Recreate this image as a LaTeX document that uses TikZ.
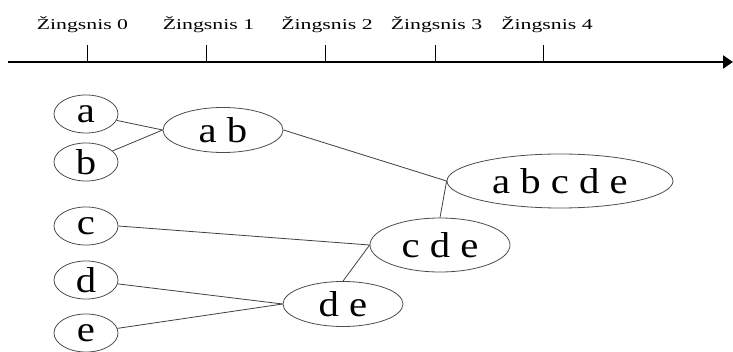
\documentclass[tikz,border=0pt]{standalone}
\usepackage{fontspec}
\setmainfont{Liberation Serif}
\usetikzlibrary{shapes.geometric,arrows.meta}
\newcommand{\nodetxt}[1]{\scalebox{1.13}[1]{#1}}
\newcommand{\lbltxt}[1]{\scalebox{1.45}[1]{#1}}
\tikzset{
  leaf/.style={ellipse, draw=black!70, line width=0.8pt, inner sep=0pt,
    minimum width=64pt, minimum height=38pt, font=\fontsize{36}{40}\selectfont},
  cluster/.style={ellipse, draw=black!70, line width=0.8pt, inner sep=0pt,
    font=\fontsize{36}{40}\selectfont},
  link/.style={draw=black!75, line width=0.8pt},
  tick/.style={draw=black, line width=0.8pt},
  steplabel/.style={anchor=base, inner sep=0pt, font=\fontsize{15}{18}\selectfont}
}
\begin{document}
\begin{tikzpicture}[x=1pt,y=-1pt]
\useasboundingbox (0,0) rectangle (733,352);
% time axis
\coordinate (axs) at (8,62);
\coordinate (axe) at (733,62);
\draw[line width=2pt, -{Triangle[length=10pt,width=13pt]}] (axs) -- (axe);
\foreach \x/\lx/\n [count=\i] in {87/82.5/0, 206/208.5/1, 325/327/2, 435/436.5/3, 543/547/4}{
  \coordinate (t\i) at (\x,45);
  \coordinate (tb\i) at (\x,62);
  \draw[tick] (t\i) -- (tb\i);
  \node[steplabel] (l\i) at (\lx,30) {\lbltxt{Žingsnis \n}};
}
% leaves
\node[leaf] (a) at (86,114) {\nodetxt{a}};
\node[leaf] (b) at (86,162) {\nodetxt{b}};
\node[leaf] (c) at (86,226) {\nodetxt{c}};
\node[leaf] (d) at (86,280) {\nodetxt{d}};
\node[leaf] (e) at (86,333) {\nodetxt{e}};
% clusters
\node[cluster, minimum width=120pt, minimum height=45pt] (ab) at (223,130) {\nodetxt{a b}};
\node[cluster, minimum width=120pt, minimum height=45pt] (de) at (343,304) {\nodetxt{d e}};
\node[cluster, minimum width=140pt, minimum height=54pt] (cde) at (440,245) {\nodetxt{c d e}};
\node[cluster, minimum width=226pt, minimum height=54pt] (abcde) at (560,181) {\nodetxt{a b c d e}};
% connectors
\draw[link] (a) -- (ab.west);
\draw[link] (b) -- (ab.west);
\draw[link] (ab.east) -- (abcde.west);
\draw[link] (c.east) -- (cde.west);
\draw[link] (d) -- (de.west);
\draw[link] (e) -- (de.west);
\draw[link] (de.north) -- (cde.west);
\draw[link] (cde.north) -- (abcde.west);
\end{tikzpicture}
\end{document}
